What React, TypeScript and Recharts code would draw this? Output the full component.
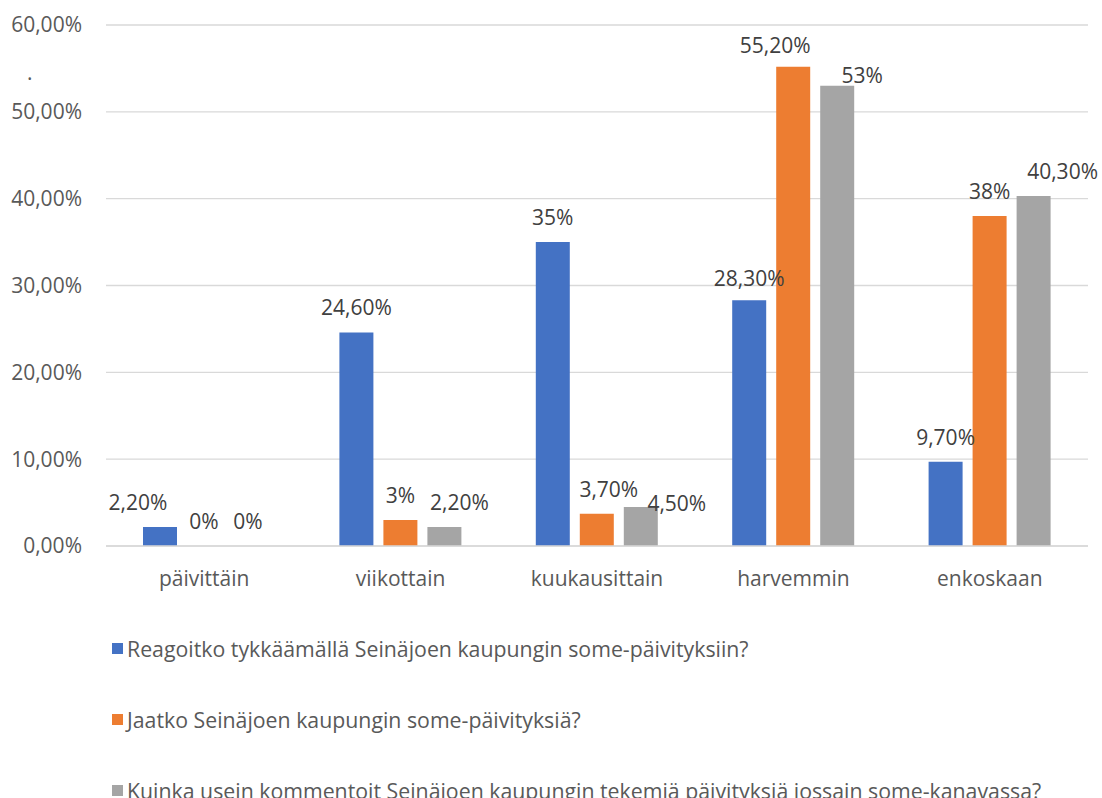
import React from "react";
import { BarChart, Bar, XAxis, YAxis, CartesianGrid, Legend, LabelList } from "recharts";

// Frequency categories on the x axis
const categories = ["päivittäin", "viikottain", "kuukausittain", "harvemmin", "enkoskaan"];

// Series names (survey questions)
const seriesNames = [
  "Reagoitko tykkäämällä Seinäjoen kaupungin some-päivityksiin?",
  "Jaatko Seinäjoen kaupungin some-päivityksiä?",
  "Kuinka usein kommentoit Seinäjoen kaupungin tekemiä päivityksiä jossain some-kanavassa?",
];

// Shares in percent, one value per category
const likes = [2.2, 24.6, 35, 28.3, 9.7];
const shares = [0, 3, 3.7, 55.2, 38];
const comments = [0, 2.2, 4.5, 53, 40.3];

// Y axis tick values (percent)
const yTicks = [0, 10, 20, 30, 40, 50, 60];

const colors = ["#4472C4", "#ED7D31", "#A5A5A5"];

// Small manual nudges for individual value labels [dx, dy]
const labelNudges: [number, number][][] = [
  [[-22, 0], [0, 0], [0, 0], [0, 3], [0, 0]],
  [[0, 0], [0, 0], [12, 0], [-18, 3], [0, 0]],
  [[0, 0], [15, 0], [36, 21], [25, 14], [29, 0]],
];

const keys = ["s0", "s1", "s2"];
const seriesValues = [likes, shares, comments];

const data = categories.map((c, i) => {
  const row: Record<string, string | number> = { name: c };
  seriesValues.forEach((vals, s) => {
    row[keys[s]] = vals[i];
  });
  return row;
});

const FONT = "'Open Sans', sans-serif";

const fmtTick = (v: number) => `${v.toFixed(2).replace(".", ",")}%`;
const fmtValue = (v: number) =>
  Number.isInteger(v) ? `${v}%` : `${v.toFixed(2).replace(".", ",")}%`;

const makeLabel = (s: number) => (props: any) => {
  const { x, y, width, value, index } = props;
  const [dx, dy] = labelNudges[s][index] || [0, 0];
  return (
    <text
      x={Number(x) + Number(width) / 2 + dx}
      y={Number(y) - 25 + dy}
      textAnchor="middle"
      dominantBaseline="central"
      fill="#404040"
      fontSize={21}
      fontFamily={FONT}
    >
      {fmtValue(Number(value))}
    </text>
  );
};

const renderLegend = () => (
  <div style={{ fontFamily: FONT, fontSize: 21.3, color: "#595959" }}>
    {seriesNames.map((n, i) => (
      <div
        key={n}
        style={{ display: "flex", alignItems: "center", height: 71, whiteSpace: "nowrap" }}
      >
        <span
          style={{
            display: "inline-block",
            width: 11,
            height: 11,
            background: colors[i],
            marginRight: 4,
          }}
        />
        <span>{n}</span>
      </div>
    ))}
  </div>
);

export default function App() {
  return (
    <div style={{ position: "absolute", left: 0, top: 0, width: 1102, height: 798, background: "#fff", overflow: "hidden" }}>
      <div
        style={{
          position: "absolute",
          left: 27,
          top: 58,
          fontFamily: FONT,
          fontSize: 21,
          color: "#595959",
        }}
      >
        .
      </div>
      <BarChart
        width={1102}
        height={798}
        data={data}
        margin={{ top: 25, right: 14, left: 0, bottom: 0 }}
        barGap={10}
        barSize={34}
      >
        <CartesianGrid vertical={false} stroke="#d9d9d9" strokeWidth={1.3} />
        <XAxis
          dataKey="name"
          axisLine={{ stroke: "#d9d9d9", strokeWidth: 1.3 }}
          tickLine={false}
          tickSize={6}
          tickMargin={19}
          height={252}
          tick={{ fill: "#595959", fontSize: 21, fontFamily: FONT }}
          interval={0}
        />
        <YAxis
          domain={[0, 60]}
          ticks={yTicks}
          tickFormatter={fmtTick}
          axisLine={false}
          tickLine={false}
          tickSize={6}
          tickMargin={18}
          width={106}
          tick={{ fill: "#595959", fontSize: 21, fontFamily: FONT }}
        />
        <Legend
          content={renderLegend}
          wrapperStyle={{ top: 613, left: 112, bottom: "auto", width: 990, height: 0 }}
        />
        {keys.map((k, s) => (
          <Bar
            key={k}
            dataKey={k}
            name={seriesNames[s]}
            fill={colors[s]}
            minPointSize={0.01}
            isAnimationActive={false}
          >
            <LabelList dataKey={k} content={makeLabel(s)} />
          </Bar>
        ))}
      </BarChart>
    </div>
  );
}
